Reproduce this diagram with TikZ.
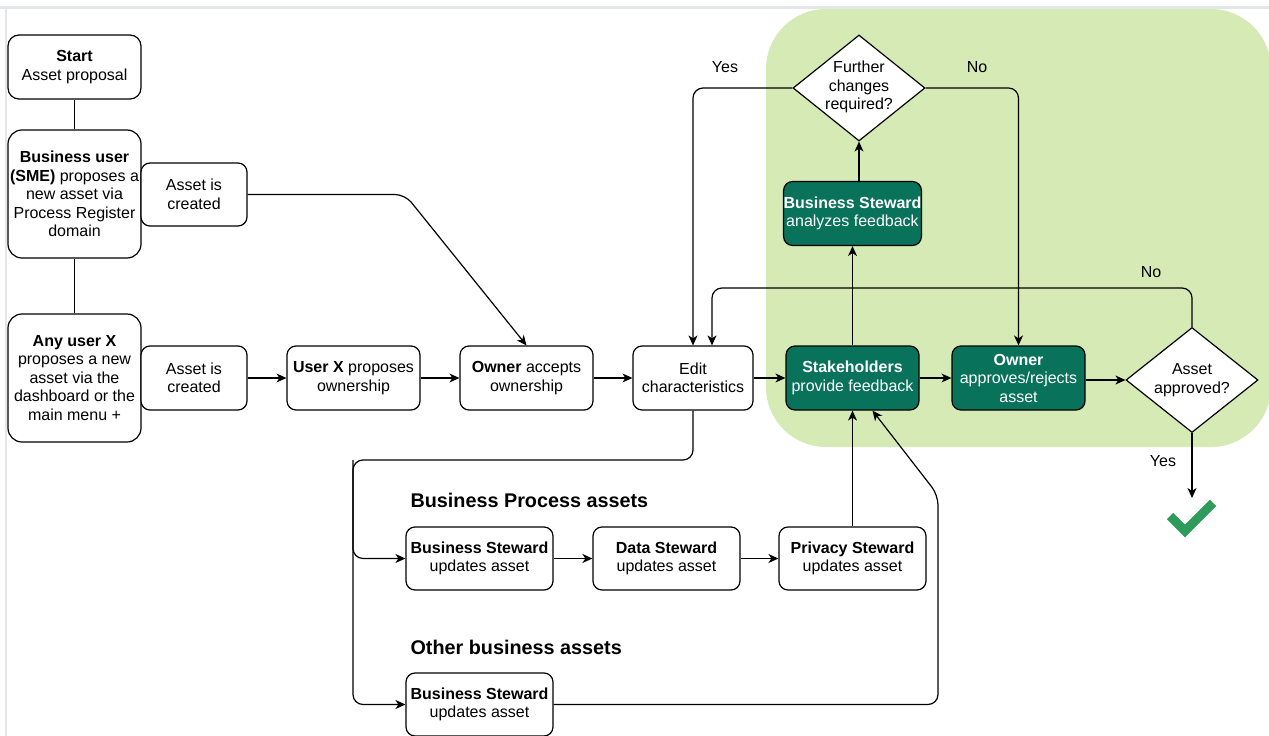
\documentclass[tikz,border=0pt]{standalone}
\usepackage{fontspec}
\setmainfont{Liberation Sans}
\usetikzlibrary{shapes.geometric,arrows.meta}
\definecolor{bgreen}{RGB}{213,234,180}
\definecolor{dgreen}{RGB}{8,114,90}
\definecolor{ckgreen}{RGB}{46,155,90}
\definecolor{framegray}{RGB}{227,231,234}
\newcommand{\fsz}{\fontsize{16}{18.5}\selectfont}
\begin{document}
\begin{tikzpicture}[x=1pt,y=-1pt,
 every node/.style={font=\fsz, align=center},
 box/.style={draw, line width=1.2pt, rounded corners=9pt, inner sep=0pt, fill=white, minimum width=133pt, minimum height=64pt},
 bigbox/.style={box, rounded corners=14pt, minimum height=128pt},
 dbox/.style={box, fill=dgreen, text=white},
 widebox/.style={box, minimum width=147pt, minimum height=63pt},
 dia/.style={diamond, draw, fill=white, line width=1.2pt, inner sep=0pt, minimum width=132pt, minimum height=106pt},
 arr/.style={line width=1.2pt, -{Stealth[length=10pt,width=9pt,inset=3pt]}},
 ln/.style={line width=1.2pt},
 rc/.style={rounded corners=10pt},
 heading/.style={anchor=west, font=\fontsize{19.8}{22}\selectfont\bfseries}]
\useasboundingbox (0,0) rectangle (1269,736);
% frame and background
\fill[framegray] (0,5.5) rectangle (1269,8.5);
\fill[framegray] (4.5,5.5) rectangle (7,736);
\fill[bgreen, rounded corners=60pt] (766,9) rectangle (1271,447);

% left column
\node[box, rounded corners=11pt] (start) at (74.5,67) {\textbf{Start}\\Asset proposal};
\node[bigbox] (bu) at (74.5,194) {\textbf{Business user}\\\textbf{(SME)} proposes a\\new asset via\\Process Register\\domain};
\node[bigbox] (anyx) at (74.5,378) {\textbf{Any user X}\\proposes a new\\asset via the\\dashboard or the\\main menu +};
\node[box, minimum width=106pt, minimum height=63pt] (ac1) at (194,194.5) {Asset is\\created};
\node[box, minimum width=106pt] (ac2) at (194,378) {Asset is\\created};

% main row
\node[box] (ux) at (353.5,378) {\textbf{User X} proposes\\ownership};
\node[box] (own1) at (526.5,378) {\textbf{Owner} accepts\\ownership};
\node[box, minimum width=120pt] (edit) at (693,378) {Edit\\characteristics};
\node[dbox] (sh) at (852.5,378) {\textbf{Stakeholders}\\provide feedback};
\node[dbox] (own2) at (1018.5,378) {\textbf{Owner}\\approves/rejects\\asset};
\node[dia, minimum height=105pt] (aa) at (1192,380) {};
\node (aat) at (aa) {Asset\\approved?};

% feedback loop
\node[widebox, dbox] (bsa) at (852.5,213.5) {\textbf{Business Steward}\\analyzes feedback};
\node[dia] (fcr) at (859,88) {};
\node (fcrt) at (859,87) {Further\\changes\\required?};

% bottom
\node[heading] (h1) at (407,500) {Business Process assets};
\node[heading] (h2) at (407,647) {Other business assets};
\node[widebox] (bs1) at (479.5,558.5) {\textbf{Business Steward}\\updates asset};
\node[widebox] (ds) at (666.5,558.5) {\textbf{Data Steward}\\updates asset};
\node[widebox] (ps) at (852.5,558.5) {\textbf{Privacy Steward}\\updates asset};
\node[widebox] (bs2) at (479.5,704.5) {\textbf{Business Steward}\\updates asset};

% coordinates
\coordinate (c1) at (405,194.5);
\coordinate (cx) at (353,460);
\coordinate (c2) at (938,495);
\coordinate (noy) at (712,288);
\coordinate (done) at (1192,498);

% connectors
\draw[ln] (start) -- (bu);
\draw[ln] (bu) -- (anyx);
\draw[arr, rc] (ac1.east) -- (c1) -- (own1.north);
\draw[arr] (ac2) -- (ux);
\draw[arr] (ux) -- (own1);
\draw[arr] (own1) -- (edit);
\draw[arr] (edit) -- (sh);
\draw[arr] (sh) -- (own2);
\draw[arr] (own2.east |- aa.west) -- (aa.west);
\draw[arr] (sh) -- (bsa);
\draw[arr] (bsa.north -| fcr.south) -- (fcr.south);
\draw[arr, rc] (fcr.west) -| (edit.north);
\draw[arr, rc] (fcr.east) -| (own2.north);
\draw[arr, rc] (aa.north) |- (noy) -- (noy |- edit.north);
\draw[arr] (aa.south) -- (done);
\draw[arr, rc] (edit.south) |- (cx) |- (bs1.west);
\draw[arr, rc] (cx) |- (bs2.west);
\draw[arr] (bs1) -- (ds);
\draw[arr] (ds) -- (ps);
\draw[arr] (ps) -- (sh);
\draw[arr, rc] (bs2.east) -| (c2) -- ([xshift=20pt]sh.south);

% labels
\node (yes1) at (725,67) {Yes};
\node (no1) at (977,67) {No};
\node (no2) at (1151,272) {No};
\node (yes2) at (1163,461) {Yes};

% check mark
\draw[ckgreen, line width=9pt] (1170,516) -- (1185,531) -- (1213,503);
\end{tikzpicture}
\end{document}
